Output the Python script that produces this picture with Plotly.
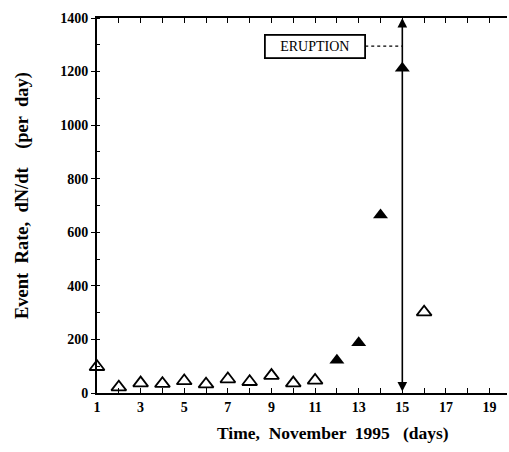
import plotly.graph_objects as go

open_days = [1, 2, 3, 4, 5, 6, 7, 8, 9, 10, 11, 16]
open_rates = [98, 22, 37, 35, 45, 33, 52, 42, 65, 37, 47, 302]
filled_days = [12, 13, 14, 15]
filled_rates = [122, 188, 665, 1212]
eruption_day = 15
eruption_label = "ERUPTION"
eruption_label_y = 1295
x_tickvals = list(range(1, 20))
x_ticktext = [str(v) if v % 2 == 1 else "" for v in x_tickvals]
y_tickvals = [0, 200, 400, 600, 800, 1000, 1200, 1400]
x_title = "Time,  November  1995   (days)"
y_title = "Event  Rate,  dN/dt    (per  day)"

FONT = "Liberation Serif"

fig = go.Figure()
fig.add_trace(go.Scatter(
    x=open_days, y=open_rates, mode="markers",
    marker=dict(symbol="triangle-up-open", size=13, color="black", line=dict(width=1.8, color="black")),
    showlegend=False, cliponaxis=False))
fig.add_trace(go.Scatter(
    x=filled_days, y=filled_rates, mode="markers",
    marker=dict(symbol="triangle-up", size=13, color="black"),
    showlegend=False, cliponaxis=False))

# double-headed arrow marking eruption
fig.add_annotation(x=eruption_day, y=1400, ax=eruption_day, ay=0, xref="x", yref="y",
                   axref="x", ayref="y", showarrow=True, arrowhead=2, arrowside="end+start",
                   arrowsize=1.2, arrowwidth=1.6, arrowcolor="black", text="")
# ERUPTION label box
fig.add_annotation(x=11.0, y=eruption_label_y, xref="x", yref="y", text=eruption_label,
                   showarrow=False, font=dict(family=FONT, size=14, color="black"),
                   bordercolor="black", borderwidth=1.8, borderpad=3, bgcolor="white",
                   width=92)
fig.add_shape(type="line", x0=13.3, x1=eruption_day, y0=eruption_label_y, y1=eruption_label_y,
              xref="x", yref="y", line=dict(color="black", width=1.2, dash="dot"))

# axis titles
fig.add_annotation(x=0.575, y=-0.107, xref="paper", yref="paper", text=x_title,
                   showarrow=False, xanchor="center", yanchor="middle",
                   font=dict(family=FONT, size=17.5, color="black", weight="bold"))
fig.add_annotation(x=-0.183, y=0.528, xref="paper", yref="paper", text=y_title,
                   showarrow=False, textangle=-90, xanchor="center", yanchor="middle",
                   font=dict(family=FONT, size=18.5, color="black", weight="bold"))

fig.update_layout(
    width=509, height=452,
    margin=dict(l=97, r=2, t=18, b=59),
    paper_bgcolor="white", plot_bgcolor="white",
    font=dict(family=FONT, color="black"),
    xaxis=dict(range=[1, 19.8], tickvals=x_tickvals, ticktext=x_ticktext,
               ticks="inside", ticklen=5, tickwidth=1.2, tickcolor="black",
               showline=True, linewidth=2, linecolor="black", mirror="ticks",
               showgrid=False, zeroline=False,
               tickfont=dict(family=FONT, size=14, color="black", weight="bold")),
    yaxis=dict(range=[0, 1400], tickvals=y_tickvals,
               ticks="outside", ticklen=4, tickwidth=1.2, tickcolor="black",
               minor=dict(dtick=100, ticks="inside", ticklen=3, tickcolor="black"),
               showline=True, linewidth=2, linecolor="black",
               showgrid=False, zeroline=False,
               tickfont=dict(family=FONT, size=14, color="black", weight="bold")),
)

fig.write_html("out.html", config={"displayModeBar": False},
               post_script="document.body.style.margin='0px';")
